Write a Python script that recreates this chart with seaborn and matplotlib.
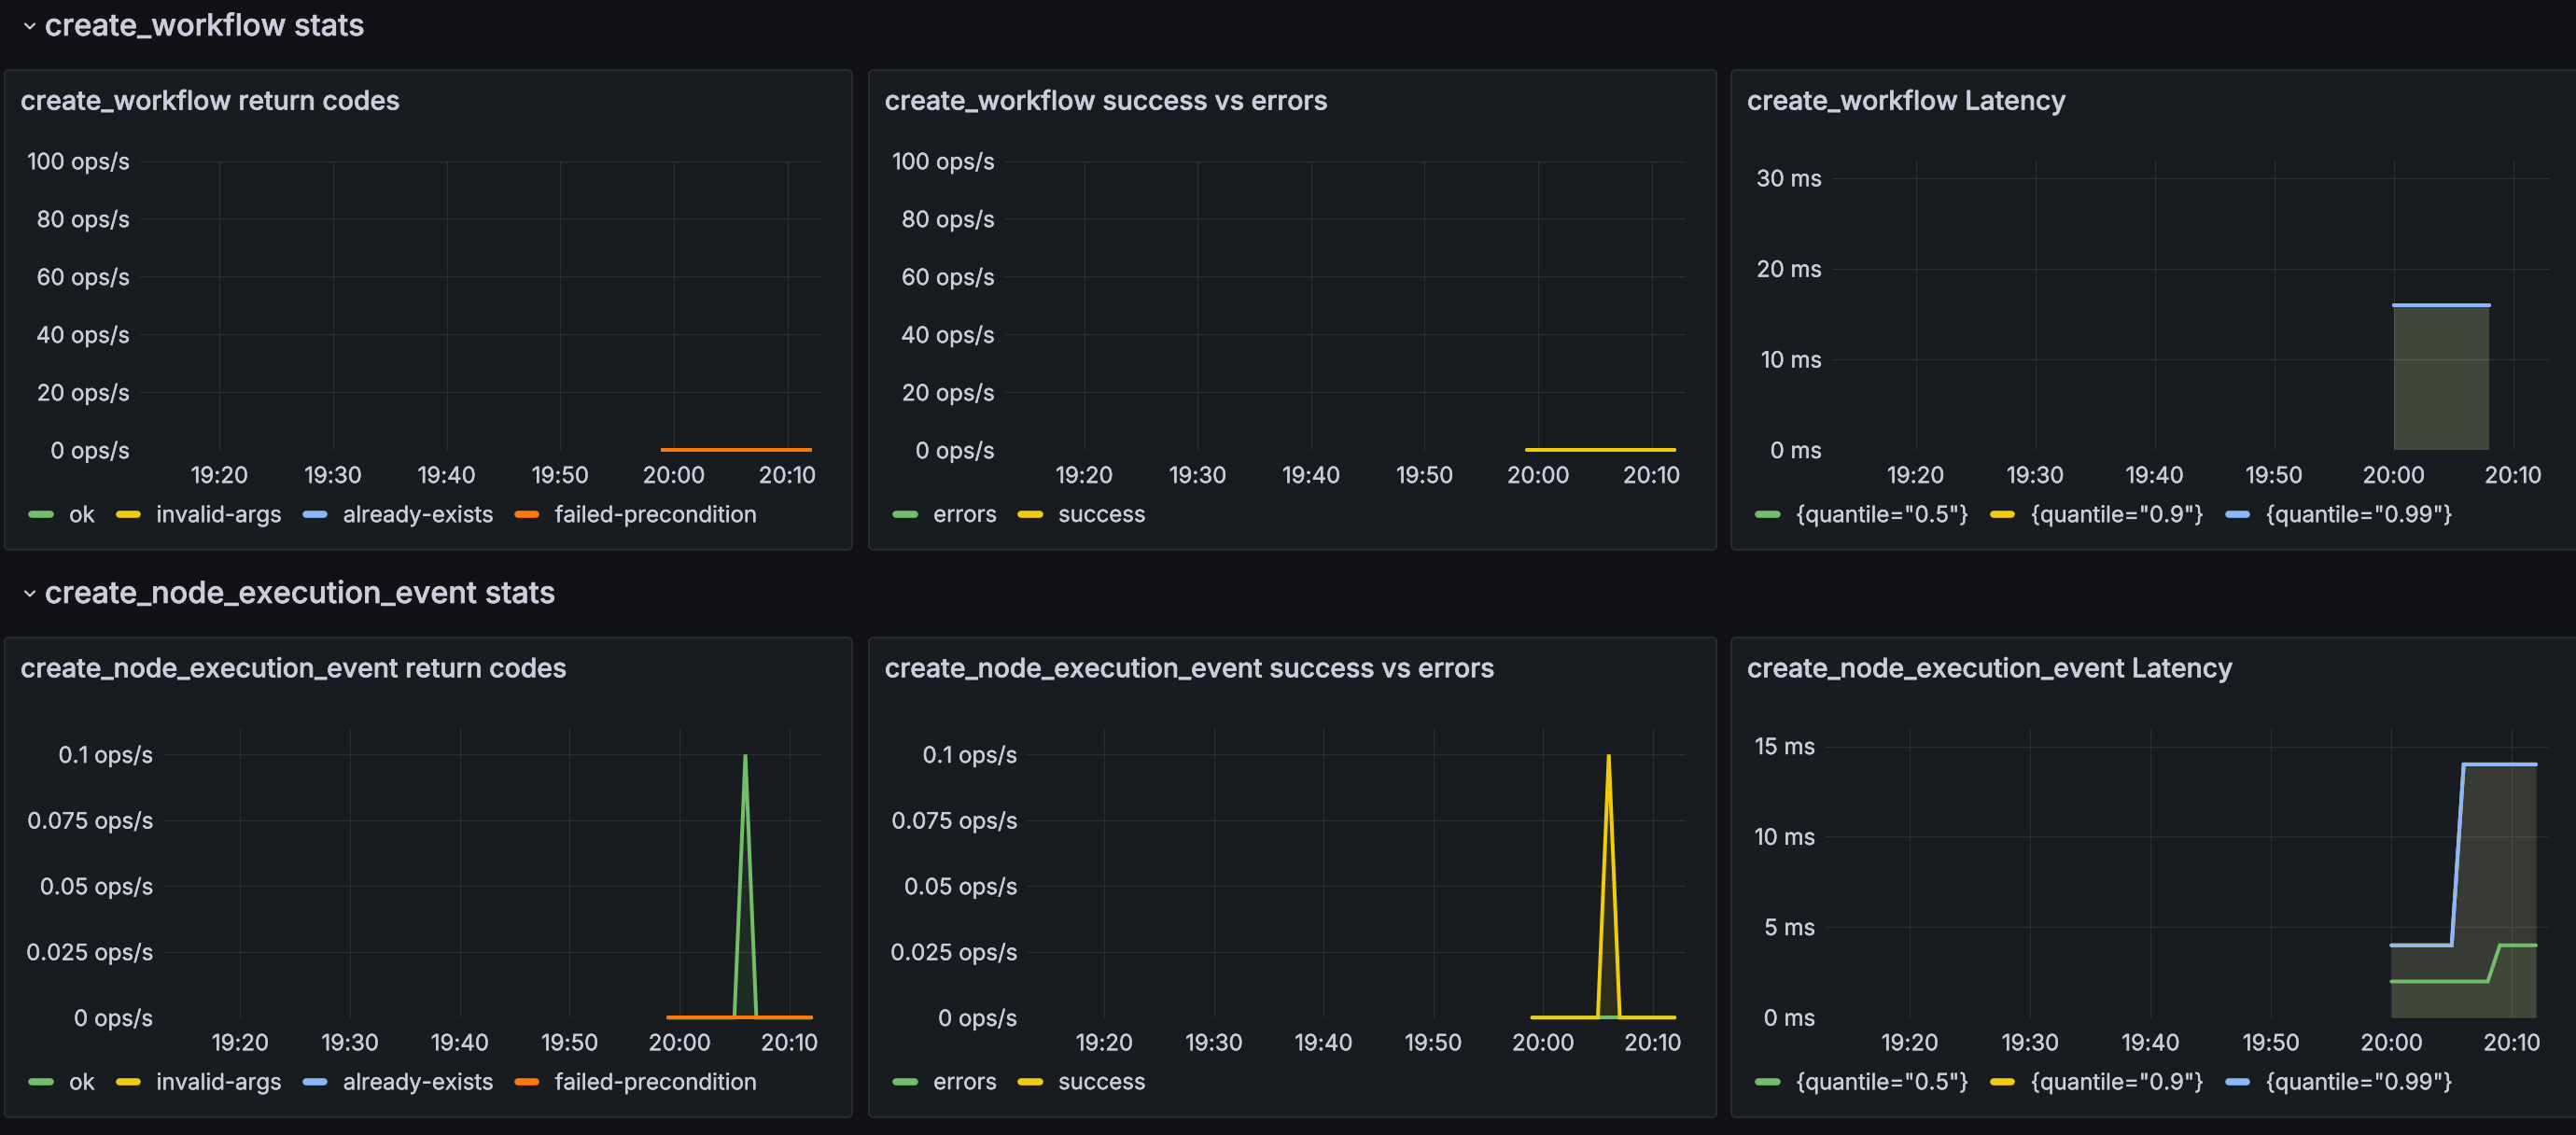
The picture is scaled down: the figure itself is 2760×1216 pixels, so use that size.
import numpy as np
import pandas as pd
import matplotlib
matplotlib.use("Agg")
import matplotlib.pyplot as plt
import matplotlib.dates as mdates
import matplotlib.patheffects as pe
from matplotlib.lines import Line2D
from matplotlib.patches import FancyBboxPatch
from matplotlib.ticker import FuncFormatter
import seaborn as sns

# ------------------------------------------------------------------ data
rate_times = ["19:59", "20:00", "20:01", "20:02", "20:03", "20:04", "20:05",
              "20:06", "20:07", "20:08", "20:09", "20:10", "20:11", "20:12"]

return_code_labels = ["ok", "invalid-args", "already-exists", "failed-precondition"]
success_labels = ["errors", "success"]
quantile_labels = ['{quantile="0.5"}', '{quantile="0.9"}', '{quantile="0.99"}']

# create_workflow return codes (ops/s)
wf_ok = [0, 0, 0, 0, 0, 0, 0, 0, 0, 0, 0, 0, 0, 0]
wf_invalid_args = [0, 0, 0, 0, 0, 0, 0, 0, 0, 0, 0, 0, 0, 0]
wf_already_exists = [0, 0, 0, 0, 0, 0, 0, 0, 0, 0, 0, 0, 0, 0]
wf_failed_precondition = [0, 0, 0, 0, 0, 0, 0, 0, 0, 0, 0, 0, 0, 0]
# create_workflow success vs errors (ops/s)
wf_errors = [0, 0, 0, 0, 0, 0, 0, 0, 0, 0, 0, 0, 0, 0]
wf_success = [0, 0, 0, 0, 0, 0, 0, 0, 0, 0, 0, 0, 0, 0]
# create_workflow latency (ms)
wf_lat_times = ["20:00", "20:01", "20:02", "20:03", "20:04", "20:05", "20:06", "20:07", "20:08"]
wf_lat_q50 = [16, 16, 16, 16, 16, 16, 16, 16, 16]
wf_lat_q90 = [16, 16, 16, 16, 16, 16, 16, 16, 16]
wf_lat_q99 = [16, 16, 16, 16, 16, 16, 16, 16, 16]

# create_node_execution_event return codes (ops/s)
ne_ok = [0, 0, 0, 0, 0, 0, 0, 0.1, 0, 0, 0, 0, 0, 0]
ne_invalid_args = [0, 0, 0, 0, 0, 0, 0, 0, 0, 0, 0, 0, 0, 0]
ne_already_exists = [0, 0, 0, 0, 0, 0, 0, 0, 0, 0, 0, 0, 0, 0]
ne_failed_precondition = [0, 0, 0, 0, 0, 0, 0, 0, 0, 0, 0, 0, 0, 0]
# create_node_execution_event success vs errors (ops/s)
ne_errors = [0, 0, 0, 0, 0, 0, 0, 0, 0, 0, 0, 0, 0, 0]
ne_success = [0, 0, 0, 0, 0, 0, 0, 0.1, 0, 0, 0, 0, 0, 0]
# create_node_execution_event latency (ms)
ne_lat_times = ["20:00", "20:01", "20:02", "20:03", "20:04", "20:05", "20:06",
                "20:07", "20:08", "20:09", "20:10", "20:11", "20:12"]
ne_lat_q50 = [2, 2, 2, 2, 2, 2, 2, 2, 2, 4, 4, 4, 4]
ne_lat_q90 = [4, 4, 4, 4, 4, 4, 14, 14, 14, 14, 14, 14, 14]
ne_lat_q99 = [4, 4, 4, 4, 4, 4, 14, 14, 14, 14, 14, 14, 14]

x_tick_labels = ["19:20", "19:30", "19:40", "19:50", "20:00", "20:10"]
x_range = ["19:13", "20:13"]
ops_ticks_big = [0, 20, 40, 60, 80, 100]
ms_ticks_wf = [0, 10, 20, 30]
ops_ticks_small = [0, 0.025, 0.05, 0.075, 0.1]
ms_ticks_ne = [0, 5, 10, 15]

section_titles = ["create_workflow stats", "create_node_execution_event stats"]
panel_titles = [
    ["create_workflow return codes", "create_workflow success vs errors", "create_workflow Latency"],
    ["create_node_execution_event return codes", "create_node_execution_event success vs errors",
     "create_node_execution_event Latency"],
]

# ------------------------------------------------------------------ style
GREEN, YELLOW, BLUE, ORANGE = "#73BF69", "#F2CC0C", "#8AB8FF", "#FF780A"
CANVAS = "#111217"
PANEL = "#181b1f"
BORDER = "#2a2c31"
GRID = "#2d2f34"
TEXT = "#ccccdc"

sns.set_theme(style="dark")
plt.rcParams["font.family"] = ["Inter", "DejaVu Sans"]
plt.rcParams["axes.unicode_minus"] = False

W, H = 2760, 1216
DPI = 100
PT = 72.0 / DPI  # px -> pt
fig = plt.figure(figsize=(W / DPI, H / DPI), dpi=DPI, facecolor=CANVAS)

HEAVY = [pe.withStroke(linewidth=0.6 * PT, foreground=TEXT)]
LIGHT = [pe.withStroke(linewidth=0.35 * PT, foreground=TEXT)]


def dt(ts):
    return pd.to_datetime(["2024-01-01 " + t for t in ts])


def frame(times, series, labels):
    parts = []
    for vals, lab in zip(series, labels):
        parts.append(pd.DataFrame({"time": dt(times), "value": vals, "series": lab}))
    return pd.concat(parts, ignore_index=True)


def px_rect(l, t, r, b):
    return [l / W, 1 - b / H, (r - l) / W, (b - t) / H]


def add_panel(l, t, r, b):
    p = FancyBboxPatch((l / DPI, (H - b) / DPI), (r - l) / DPI, (b - t) / DPI,
                       boxstyle="round,pad=0,rounding_size=0.05",
                       transform=fig.dpi_scale_trans, fc=PANEL, ec=BORDER,
                       lw=1.3, zorder=-5)
    fig.add_artist(p)


def draw_chart(axrect, times, series, labels, colors, ylim, yticks, unit):
    ax = fig.add_axes(px_rect(*axrect))
    ax.set_facecolor(PANEL)
    df = frame(times, series, labels)
    x = dt(times)
    for vals, c in zip(series, colors):
        ax.fill_between(x, 0, vals, color=c, alpha=0.10, lw=0, zorder=1)
    sns.lineplot(data=df, x="time", y="value", hue="series", hue_order=labels,
                 palette=dict(zip(labels, colors)), estimator=None, errorbar=None,
                 legend=False, lw=4 * PT, ax=ax, zorder=3)
    for ln in ax.lines:
        ln.set_clip_on(False)
        ln.set_solid_joinstyle("miter")
    xr = dt(x_range)
    ax.set_xlim(xr[0], xr[1])
    ax.set_ylim(*ylim)
    ax.set_xticks(dt(x_tick_labels))
    ax.xaxis.set_major_formatter(mdates.DateFormatter("%H:%M"))
    ax.set_yticks(yticks)
    ax.yaxis.set_major_formatter(FuncFormatter(lambda v, p: f"{v:g} {unit}"))
    ax.set_xlabel("")
    ax.set_ylabel("")
    for s in ax.spines.values():
        s.set_visible(False)
    ax.grid(True, color=GRID, lw=1.2 * PT, zorder=0)
    ax.set_axisbelow(True)
    ax.tick_params(axis="x", length=8 * PT, width=1.2 * PT, color=GRID,
                   pad=10 * PT, labelsize=24 * PT, labelcolor=TEXT)
    ax.tick_params(axis="y", length=0, pad=11 * PT, labelsize=24 * PT, labelcolor=TEXT)
    for t in ax.get_xticklabels() + ax.get_yticklabels():
        t.set_path_effects(LIGHT)
    return ax


def add_legend(ax, x_px, y_px, labels, colors):
    fs = 24 * PT
    handles = [Line2D([0], [0], color=c, lw=7.6 * PT, solid_capstyle="round") for c in colors]
    leg = ax.legend(handles, labels, loc="center left",
                    bbox_to_anchor=((x_px + 3.8) / W, 1 - y_px / H),
                    bbox_transform=fig.transFigure, ncol=len(labels), frameon=False,
                    fontsize=fs, labelcolor=TEXT, borderpad=0, borderaxespad=0,
                    handlelength=0.81, handletextpad=0.85, columnspacing=1.08)
    for t in leg.get_texts():
        t.set_path_effects(LIGHT)
    leg.set_zorder(10)


# ------------------------------------------------------------------ layout
panel_cols = [(5, 913), (931, 1839), (1855, 2766)]
row_tops = [75, 683]
row_h = 514

ax_rects = [
    [(150, 172.5, 880, 482.3), (1076.7, 172.5, 1806, 482.3), (1963, 172.5, 2731, 482.3)],
    [(175, 780.7, 881, 1090.3), (1101, 780.7, 1806, 1090.3), (1956, 780.7, 2730, 1090.3)],
]

rc_colors = [GREEN, YELLOW, BLUE, ORANGE]
se_colors = [GREEN, YELLOW]
q_colors = [GREEN, YELLOW, BLUE]

charts = [
    [
        (rate_times, [wf_ok, wf_invalid_args, wf_already_exists, wf_failed_precondition],
         return_code_labels, rc_colors, (0, 100), ops_ticks_big, "ops/s"),
        (rate_times, [wf_errors, wf_success], success_labels, se_colors, (0, 100), ops_ticks_big, "ops/s"),
        (wf_lat_times, [wf_lat_q50, wf_lat_q90, wf_lat_q99], quantile_labels, q_colors,
         (0, 31.9), ms_ticks_wf, "ms"),
    ],
    [
        (rate_times, [ne_ok, ne_invalid_args, ne_already_exists, ne_failed_precondition],
         return_code_labels, rc_colors, (0, 0.1098), ops_ticks_small, "ops/s"),
        (rate_times, [ne_errors, ne_success], success_labels, se_colors, (0, 0.1098), ops_ticks_small, "ops/s"),
        (ne_lat_times, [ne_lat_q50, ne_lat_q90, ne_lat_q99], quantile_labels, q_colors,
         (0, 15.97), ms_ticks_ne, "ms"),
    ],
]

for r in range(2):
    top = row_tops[r]
    # section header with chevron
    cy = top - 47
    fig.add_artist(Line2D([27 / DPI, 32 / DPI, 37 / DPI],
                          [(H - cy + 2.5) / DPI, (H - cy - 2.5) / DPI, (H - cy + 2.5) / DPI],
                          transform=fig.dpi_scale_trans, color=TEXT, lw=2.2 * PT,
                          solid_capstyle="round", solid_joinstyle="round"))
    fig.text(48 / W, 1 - (top - 37) / H, section_titles[r], color=TEXT,
             fontsize=32.5 * PT, fontweight=500, va="baseline", ha="left",
             path_effects=HEAVY)
    for c in range(3):
        l, rr = panel_cols[c]
        add_panel(l, top, rr, top + row_h)
        fig.text((l + 17) / W, 1 - (top + 42.5) / H, panel_titles[r][c], color=TEXT,
                 fontsize=28.4 * PT, fontweight=500, va="baseline", ha="left",
                 path_effects=HEAVY)
        times, series, labels, colors, ylim, yticks, unit = charts[r][c]
        ax = draw_chart(ax_rects[r][c], times, series, labels, colors, ylim, yticks, unit)
        add_legend(ax, l + 25.5, top + 478, labels, colors)

fig.savefig("out.png", dpi=DPI, facecolor=CANVAS)
